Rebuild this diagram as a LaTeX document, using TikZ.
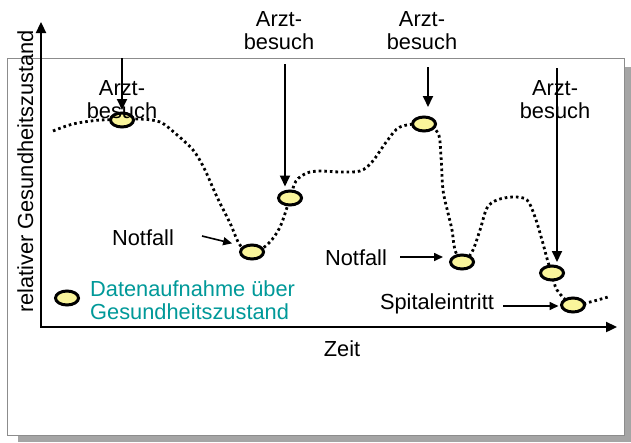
\documentclass[tikz,border=0pt]{standalone}
\usepackage{fontspec}
\setmainfont{Liberation Sans}
\usetikzlibrary{arrows.meta,shapes.geometric}
\definecolor{ptfill}{RGB}{250,245,155}
\definecolor{legendteal}{RGB}{0,153,153}
\definecolor{framegray}{RGB}{140,140,140}
\definecolor{shadowgray}{RGB}{165,165,165}
\begin{document}
\begin{tikzpicture}[x=1pt,y=-1pt,
  lbl/.style={font=\fontsize{21.8}{23.3}\selectfont, inner sep=0pt, align=center},
  pt/.style={ellipse, draw=black, line width=3pt, fill=ptfill, minimum width=23pt, minimum height=14pt, inner sep=0pt},
  ptr/.style={line width=1.8pt, -{Triangle[length=11pt,width=10pt]}},
  smallptr/.style={line width=1.6pt, -{Triangle[length=9pt,width=8pt]}},
  axisline/.style={line width=2.3pt, line join=miter, {Triangle[length=11pt,width=10pt]}-{Triangle[length=11pt,width=10pt]}},
  healthcurve/.style={line width=2.8pt, dash pattern=on 2.6pt off 3pt}
]
\useasboundingbox (0,0) rectangle (631,442);
% frame with shadow
\fill[shadowgray] (18,67) rectangle (631,442);
\filldraw[fill=white, draw=framegray, line width=1pt] (7,58) rectangle (624,435);

% axes
\coordinate (origin) at (41,327);
\coordinate (ytip) at (41,22);
\coordinate (xtip) at (617,327);
\draw[axisline] (ytip) -- (origin) -- (xtip);
\node[lbl, rotate=90, anchor=base] (ylab) at (33,171.5) {relativer Gesundheitszustand};
\node[lbl, anchor=base] (xlab) at (342,356) {Zeit};

% health curve
\draw[healthcurve] plot[smooth, tension=0.55] coordinates {
 (53,131) (73,124) (100,120) (122,120) (140,119) (160,122) (176,134) (193,150)
 (204,168) (217,197) (230,223) (240,245) (252,252) (267,245) (280,227) (290,198)
 (296,181) (307,173) (320,171) (340,172) (360,171) (372,162) (387,141) (400,127)
 (424,124) (438,133) (441,157) (443,190) (448,213) (452,230) (455,250) (462,262)
 (472,252) (480,230) (487,208) (497,200) (513,197) (527,200) (535,217) (542,240)
 (548,262) (552,273) (557,290) (573,305) (590,302) (608,297)};

% data points
\node[pt] (e1) at (122,120) {};
\node[pt] (e2) at (290,198) {};
\node[pt] (e3) at (252,252) {};
\node[pt] (e4) at (424,124) {};
\node[pt] (e5) at (462,262) {};
\node[pt] (e6) at (552,273) {};
\node[pt] (e7) at (573,305) {};
\node[pt] (eL) at (67,298) {};

% Arztbesuch arrows
\coordinate (a1s) at (122,58);
\coordinate (a2s) at (285,64);
\coordinate (a3s) at (428,67);
\coordinate (a4s) at (557,68);
\draw[ptr, shorten >=1.5pt] (a1s) -- (e1.north);
\draw[ptr, shorten >=3pt] (a2s) -- (a2s |- e2.north);
\draw[ptr, shorten >=8.5pt] (a3s) -- (a3s |- e4.north);
\draw[ptr, shorten >=2.5pt] (a4s) -- (a4s |- e6.north);

\node[lbl, anchor=south] (l1) at (122,119) {Arzt-\\besuch};
\node[lbl, anchor=south] (l2) at (279,50) {Arzt-\\besuch};
\node[lbl, anchor=south] (l3) at (422,50) {Arzt-\\besuch};
\node[lbl, anchor=south] (l4) at (555,119) {Arzt-\\besuch};

% Notfall / Spitaleintritt
\node[lbl, anchor=base] (nf1) at (143,245) {Notfall};
\node[lbl, anchor=base] (nf2) at (356,265) {Notfall};
\node[lbl, anchor=base] (sp) at (437,309) {Spitaleintritt};
\coordinate (n1s) at (202,236);
\coordinate (n2s) at (400,257);
\coordinate (s1s) at (503,306);
\draw[smallptr, shorten >=11pt] (n1s) -- (e3.north west);
\draw[smallptr, shorten >=6pt] (n2s) -- (n2s -| e5.west);
\draw[smallptr, shorten >=1.5pt] (s1s) -- (s1s -| e7.west);

% legend
\node[lbl, align=left, anchor=south west, text=legendteal] (leg) at (90,320) {Datenaufnahme über\\Gesundheitszustand};
\end{tikzpicture}
\end{document}
